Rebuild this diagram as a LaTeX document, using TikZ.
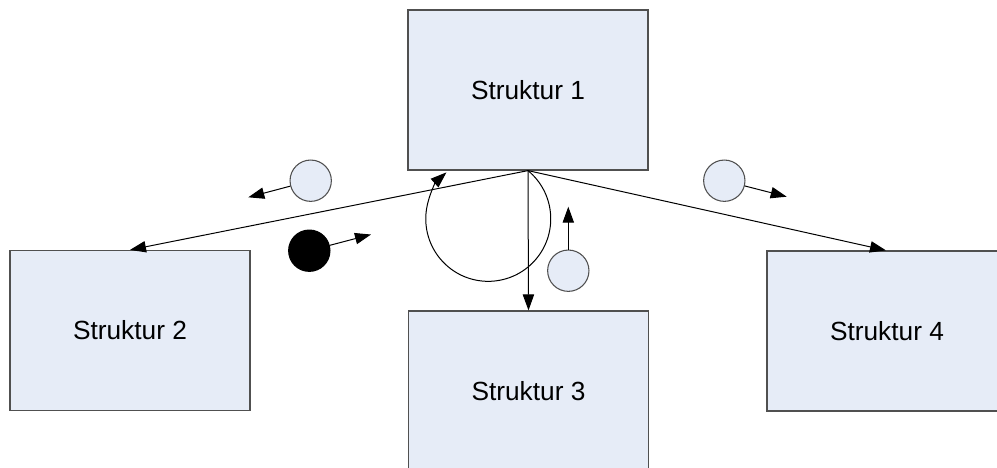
\documentclass[tikz,border=0pt]{standalone}
\usepackage{fontspec}
\setmainfont{Liberation Sans}
\usetikzlibrary{arrows.meta}
\definecolor{boxfill}{HTML}{E6ECF7}
\definecolor{boxline}{HTML}{505050}
\tikzset{
  struct/.style={draw=boxline, line width=0.9pt, fill=boxfill, minimum width=180pt, minimum height=120pt, inner sep=0pt, font=\fontsize{19.7pt}{22pt}\selectfont},
  token/.style={circle, draw=boxline, line width=0.8pt, fill=boxfill, minimum size=31pt, inner sep=0pt},
  blacktoken/.style={circle, draw=black, line width=0.8pt, fill=black, minimum size=31pt, inner sep=0pt},
  conn/.style={line width=0.75pt, -{Triangle[length=12pt,width=8.5pt]}},
}
\begin{document}
\begin{tikzpicture}[x=0.75pt,y=-0.75pt]
\useasboundingbox (0,0) rectangle (997,468);
\clip (0,0) rectangle (997,468);
\node[struct] (s1) at (528,90) {Struktur 1};
\node[struct] (s2) at (130,330.5) {Struktur 2};
\node[struct] (s3) at (528.5,391) {Struktur 3};
\node[struct, minimum width=225pt] (s4) at (917,331) {\hspace*{-45pt}Struktur 4};
\draw[conn] (s1.south) -- (s2.north);
\draw[conn] (s1.south) -- (s3.north);
\draw[conn] (s1.south) -- ([xshift=-23.25pt]s4.north);
\draw[conn] (s1.south) arc[start angle=-50.5, end angle=228, radius=62.5];
\node[token] (c1) at (310.7,180.7) {};
\coordinate (a1) at (248.3,197.3);
\draw[conn] (c1) -- (a1);
\node[blacktoken] (c2) at (309.3,250.7) {};
\coordinate (a2) at (371,234.5);
\draw[conn] (c2) -- (a2);
\node[token] (c3) at (724.3,180.7) {};
\coordinate (a3) at (786.7,196.7);
\draw[conn] (c3) -- (a3);
\node[token] (c4) at (568.3,270.7) {};
\coordinate (a4) at (568.3,206.7);
\draw[conn] (c4) -- (a4);
\end{tikzpicture}
\end{document}
